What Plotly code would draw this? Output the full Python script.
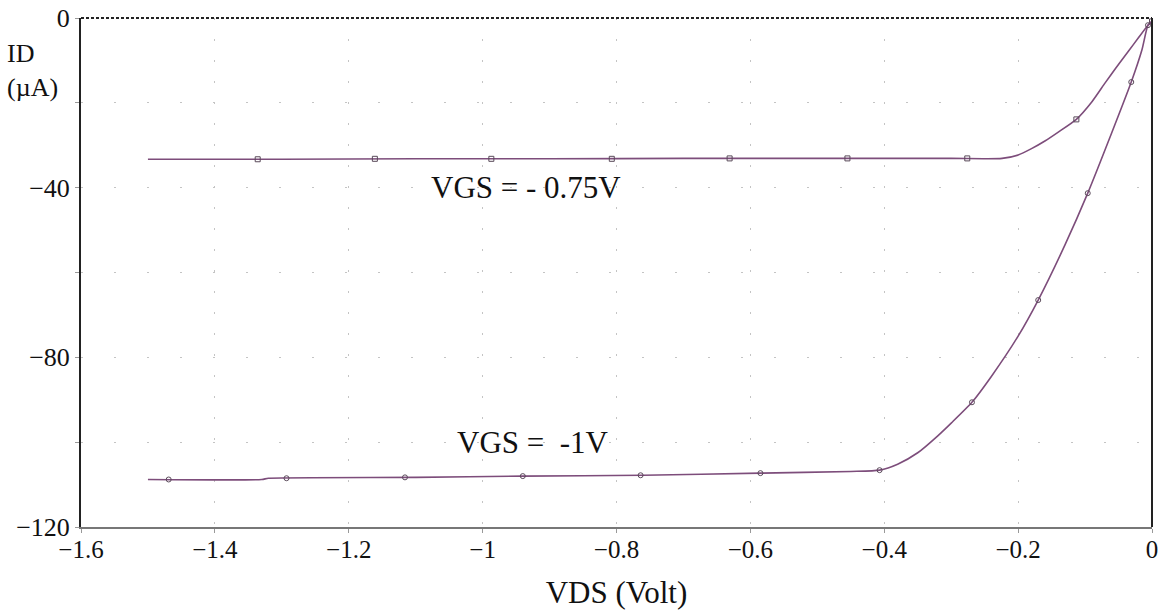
import plotly.graph_objects as go

# Curve VGS = -0.75 V (line samples)
vds_075 = [-1.5, -1.3, -1.1, -0.9, -0.7, -0.5, -0.3, -0.224, -0.2, -0.18, -0.16, -0.14, -0.113, -0.09, -0.07, -0.054, -0.035, -0.02, -0.006, 0.0]
id_075 = [-33.3, -33.3, -33.2, -33.2, -33.1, -33.1, -33.1, -33.1, -32.3, -30.8, -29.0, -26.9, -23.9, -19.8, -15.3, -11.8, -7.8, -4.6, -1.7, -0.8]
# Marker positions on VGS = -0.75 V
mk_vds_075 = [-1.336, -1.161, -0.987, -0.807, -0.631, -0.455, -0.276, -0.113, 0.0]
mk_id_075 = [-33.3, -33.2, -33.2, -33.2, -33.1, -33.1, -33.1, -23.9, -0.8]

# Curve VGS = -1 V (line samples)
vds_1 = [-1.5, -1.33, -1.32, -1.1, -0.94, -0.76, -0.585, -0.45, -0.407, -0.38, -0.35, -0.32, -0.3, -0.269, -0.24, -0.2, -0.17, -0.13, -0.096, -0.06, -0.031, -0.015, -0.006, 0.0]
id_1 = [-108.8, -108.8, -108.5, -108.3, -108.0, -107.8, -107.3, -106.9, -106.6, -105.2, -102.5, -98.5, -95.5, -90.6, -84.5, -75.0, -66.5, -53.5, -41.3, -27.0, -15.1, -7.5, -1.7, -0.8]
# Marker positions on VGS = -1 V
mk_vds_1 = [-1.469, -1.293, -1.116, -0.940, -0.764, -0.585, -0.407, -0.269, -0.170, -0.096, -0.031, -0.006]
mk_id_1 = [-108.8, -108.5, -108.3, -108.0, -107.8, -107.3, -106.6, -90.6, -66.5, -41.3, -15.1, -1.7]

x_ticks = [-1.6, -1.4, -1.2, -1.0, -0.8, -0.6, -0.4, -0.2, 0.0]
x_labels = ["\u22121.6", "\u22121.4", "\u22121.2", "\u22121", "\u22120.8", "\u22120.6", "\u22120.4", "\u22120.2", "0"]
y_ticks = [0, -20, -40, -60, -80, -100, -120]
y_labels = ["0", "", "\u221240", "", "\u221280", "", "\u2212120"]

line_col = "#7d4d7b"
mk_col = "#5a4a5a"
serif = "Liberation Serif, Times New Roman, serif"

fig = go.Figure()
fig.add_trace(go.Scatter(x=vds_075, y=id_075, mode="lines", line=dict(color=line_col, width=1.6, shape="spline", smoothing=0.6), hoverinfo="skip"))
fig.add_trace(go.Scatter(x=mk_vds_075, y=mk_id_075, mode="markers", marker=dict(symbol="square-open", size=5, color=mk_col, line=dict(width=1))))
fig.add_trace(go.Scatter(x=vds_1, y=id_1, mode="lines", line=dict(color=line_col, width=1.6, shape="spline", smoothing=0.6), hoverinfo="skip"))
fig.add_trace(go.Scatter(x=mk_vds_1, y=mk_id_1, mode="markers", marker=dict(symbol="circle-open", size=5, color=mk_col, line=dict(width=1))))

fig.update_layout(
    width=1163, height=615,
    margin=dict(l=81, r=11, t=18, b=88),
    paper_bgcolor="white", plot_bgcolor="white",
    showlegend=False,
    font=dict(family=serif, size=25, color="#111111"),
    xaxis=dict(range=[-1.6, 0], tickvals=x_ticks, ticktext=x_labels, automargin=False,
               showgrid=True, gridcolor="#c4c4c4", gridwidth=1, griddash="2px,19px",
               showline=True, linecolor="#777777", linewidth=1.5,
               ticks="outside", ticklen=4, tickcolor="#999999",
               ticklabelstandoff=-5,
               zeroline=False, tickfont=dict(family=serif, size=25),
               title=dict(text="VDS (Volt)", font=dict(family=serif, size=31), standoff=20)),
    yaxis=dict(range=[-120, 0], tickvals=y_ticks, ticktext=y_labels, automargin=False,
               showgrid=True, gridcolor="#c4c4c4", gridwidth=1, griddash="2px,31px",
               showline=True, linecolor="#222222", linewidth=2,
               ticks="outside", ticklen=4, tickcolor="#999999",
               zeroline=False, tickfont=dict(family=serif, size=26)),
    shapes=[
        dict(type="line", xref="paper", yref="paper", x0=0, x1=1, y0=1, y1=1,
             line=dict(color="#222222", width=2, dash="3px,2px")),
        dict(type="line", xref="paper", yref="paper", x0=1, x1=1, y0=0, y1=1,
             line=dict(color="#222222", width=2)),
    ],
    annotations=[
        dict(text="VGS = - 0.75V", x=-0.935, y=-40, xref="x", yref="y", showarrow=False,
             font=dict(family=serif, size=31, color="#111111")),
        dict(text="VGS =  -1V", x=-0.925, y=-100, xref="x", yref="y", showarrow=False,
             font=dict(family=serif, size=31, color="#111111")),
        dict(text="ID", x=-0.071, y=0.931, xref="paper", yref="paper",
             xanchor="left", yanchor="middle", align="left", showarrow=False,
             font=dict(family=serif, size=26, color="#111111")),
        dict(text="(\u00b5A)", x=-0.071, y=0.864, xref="paper", yref="paper",
             xanchor="left", yanchor="middle", align="left", showarrow=False,
             font=dict(family=serif, size=26, color="#111111")),
    ],
)

fig.write_html("out.html", config={"displayModeBar": False},
               post_script="document.body.style.margin='0';document.documentElement.style.overflow='hidden';document.body.style.overflow='hidden';")
